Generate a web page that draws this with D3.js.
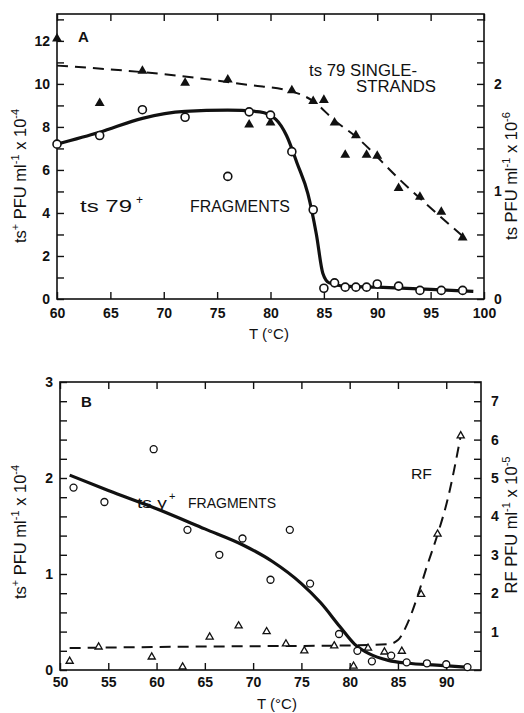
<!DOCTYPE html>
<html>
<head>
<meta charset="utf-8">
<script src="https://cdn.jsdelivr.net/npm/d3@7"></script>
<style>
  body { margin: 0; background: #fff; }
  text { font-family: "Liberation Sans", Arial, sans-serif; fill: #111; }
</style>
</head>
<body>
<svg id="chart" width="524" height="713"></svg>
<script>
// ---- panel A data ----
const tempA = [60, 64, 68, 72, 76, 78, 80, 82, 84, 85, 86, 87, 88, 89, 90, 92, 94, 96, 98];
// ts79+ fragments, ts+ PFU/ml x 10^-4 (left axis)
const fragA = [7.2, 7.6, 8.8, 8.45, 5.7, 8.7, 8.55, 6.85, 4.15, 0.5, 0.75, 0.55, 0.55, 0.55, 0.7, 0.6, 0.4, 0.4, 0.4];
// ts79 single strands, ts PFU/ml x 10^-6 (right axis)
const tempA_ss = [60, 64, 68, 72, 76, 78, 80, 82, 84, 85, 86, 87, 88, 89, 90, 92, 94, 96, 98];
const singleA = [2.42, 1.82, 2.12, 2.01, 2.04, 1.62, 1.64, 1.94, 1.84, 1.85, 1.64, 1.34, 1.52, 1.34, 1.33, 1.03, 0.95, 0.81, 0.57];
// hand drawn curves
const fragCurveT = [60, 64, 68, 72, 76, 79, 80.5, 81.5, 82.5, 83.5, 84.3, 84.9, 85.5, 87, 90, 95, 99];
const fragCurveV = [7.2, 7.75, 8.4, 8.72, 8.78, 8.7, 8.35, 7.6, 6.3, 4.9, 3.0, 1.2, 0.75, 0.6, 0.55, 0.45, 0.35];
const ssCurveT = [60, 70, 78, 82, 84, 86, 88, 92, 98.4];
const ssCurveV = [2.17, 2.09, 1.99, 1.93, 1.84, 1.66, 1.51, 1.12, 0.55];

// ---- panel B data ----
const tempB_frag = [51.4, 54.6, 59.7, 63.2, 66.5, 68.9, 71.8, 73.8, 75.9, 78.9, 80.8, 82.3, 84.3, 85.9, 88, 90, 92.2];
const fragB = [1.9, 1.75, 2.3, 1.46, 1.2, 1.37, 0.94, 1.46, 0.9, 0.375, 0.2, 0.09, 0.15, 0.08, 0.07, 0.06, 0.03];
const tempB_rf = [51, 54, 59.5, 62.7, 65.5, 68.5, 71.4, 73.4, 75.3, 78.4, 80.4, 81.9, 83.6, 85.4, 87.4, 89.1, 91.5];
const rfB = [0.23, 0.6, 0.34, 0.08, 0.86, 1.15, 1.0, 0.68, 0.5, 0.63, 0.1, 0.57, 0.47, 0.49, 1.97, 3.54, 6.1];
const fragBCurveT = [51, 55, 60, 65, 69, 72, 75, 77, 79, 80.5, 82, 84, 86, 89, 92];
const fragBCurveV = [2.03, 1.87, 1.68, 1.47, 1.3, 1.13, 0.9, 0.7, 0.45, 0.27, 0.17, 0.1, 0.07, 0.05, 0.03];
const rfCurveT = [51, 60, 70, 80, 84, 85, 86, 87, 88, 89, 90.2, 91.5];
const rfCurveV = [0.57, 0.6, 0.62, 0.64, 0.67, 0.78, 1.22, 1.9, 2.7, 3.45, 4.5, 6.1];

// tick values
const xTicksA = [60, 65, 70, 75, 80, 85, 90, 95, 100];
const xTicksB = [50, 55, 60, 65, 70, 75, 80, 85, 90];

const svg = d3.select("#chart");
const zip = (a, b) => a.map((d, i) => [d, b[i]]);

function frame(g, x, yl, yr, opts) {
  const [x0, x1] = x.range();
  const [y0, y1] = yl.range();
  g.append("rect").attr("x", x0).attr("y", y1).attr("width", x1 - x0).attr("height", y0 - y1)
    .attr("fill", "none").attr("stroke", "#111").attr("stroke-width", 1.6);

  const style = sel => {
    sel.select(".domain").remove();
    sel.selectAll("line").attr("stroke", "#111").attr("stroke-width", 1.4);
    sel.selectAll("text").attr("font-size", 14).attr("font-weight", "bold").attr("font-family", "Liberation Sans, Arial, sans-serif");
  };

  g.append("g").attr("transform", `translate(0,${y0})`)
    .call(d3.axisBottom(x).tickValues(opts.xTicks).tickSize(-7).tickPadding(opts.xPad).tickFormat(d3.format("d")))
    .call(style);
  g.append("g").attr("transform", `translate(0,${y1})`)
    .call(d3.axisTop(x).tickValues(opts.xTicks).tickSize(-7).tickFormat(""))
    .call(style);
  g.append("g").attr("transform", `translate(${x0},0)`)
    .call(d3.axisLeft(yl).tickValues(opts.ylTicks).tickSize(-7).tickPadding(7)
      .tickFormat(d => opts.ylLabels.includes(+d.toFixed(2)) ? d3.format("d")(d) : ""))
    .call(style);
  g.append("g").attr("transform", `translate(${x1},0)`)
    .call(d3.axisRight(yr).tickValues(opts.yrTicks).tickSize(-7).tickPadding(10)
      .tickFormat(d => opts.yrLabels.includes(+d.toFixed(2)) ? d3.format("d")(d) : ""))
    .call(style);
}

// parts: [text, isSuperscript]
function yTitle(g, x, y, parts) {
  const t = g.append("text").attr("transform", `translate(${x},${y}) rotate(-90)`)
    .attr("text-anchor", "middle").attr("font-size", 16.5);
  let up = false;
  parts.forEach(p => {
    const sup = !!p[1];
    const dy = sup && !up ? -7 : (!sup && up ? 7 : 0);
    up = sup;
    t.append("tspan").text(p[0]).attr("dy", dy).attr("font-size", sup ? 11 : 16.5);
  });
}

function label(g, x, y, txt, size, width) {
  const t = g.append("text").attr("x", x).attr("y", y).attr("font-size", size).text(txt);
  if (width) t.attr("textLength", width).attr("lengthAdjust", "spacingAndGlyphs");
  return t;
}

// ---------------- panel A ----------------
const xA = d3.scaleLinear().domain([60, 100]).range([57, 484]);
const yAL = d3.scaleLinear().domain([0, 13.25]).range([299, 14]);
const yAR = d3.scaleLinear().domain([0, 2.65]).range([299, 14]);
const gA = svg.append("g");

frame(gA, xA, yAL, yAR, {
  xTicks: xTicksA, xPad: 9,
  ylTicks: d3.range(0, 14, 1), ylLabels: [0, 2, 4, 6, 8, 10, 12],
  yrTicks: d3.range(0, 2.65, 0.2), yrLabels: [0, 1, 2]
});

gA.append("path").datum(zip(ssCurveT, ssCurveV))
  .attr("d", d3.line().x(d => xA(d[0])).y(d => yAR(d[1])).curve(d3.curveMonotoneX))
  .attr("fill", "none").attr("stroke", "#111").attr("stroke-width", 2).attr("stroke-dasharray", "11,7");
gA.append("path").datum(zip(fragCurveT, fragCurveV))
  .attr("d", d3.line().x(d => xA(d[0])).y(d => yAL(d[1])).curve(d3.curveMonotoneX))
  .attr("fill", "none").attr("stroke", "#111").attr("stroke-width", 3.2);

gA.selectAll(".tri").data(zip(tempA_ss, singleA)).join("path")
  .attr("transform", d => `translate(${xA(d[0])},${yAR(d[1])})`)
  .attr("d", d3.symbol(d3.symbolTriangle).size(42)).attr("fill", "#111");
gA.selectAll(".circ").data(zip(tempA, fragA)).join("circle")
  .attr("cx", d => xA(d[0])).attr("cy", d => yAL(d[1])).attr("r", 4)
  .attr("fill", "#fff").attr("stroke", "#111").attr("stroke-width", 1.6);

gA.append("text").attr("x", 78).attr("y", 42).attr("font-size", 15).attr("font-weight", "bold").text("A");
label(gA, 309, 76, "ts 79  SINGLE-", 16, 108);
label(gA, 356, 92, "STRANDS", 16, 80);
label(gA, 80, 212, "ts 79", 16, 52);
label(gA, 136, 204, "+", 12);
label(gA, 190, 212, "FRAGMENTS", 16, 100);
gA.append("text").attr("x", 269).attr("y", 339).attr("text-anchor", "middle").attr("font-size", 15).text("T (°C)");

yTitle(gA, 26, 176, [["ts"], ["+", 1], [" PFU ml"], ["-1", 1], [" x 10"], ["-4", 1]]);
yTitle(gA, 517, 176, [["ts PFU ml"], ["-1", 1], [" x 10"], ["-6", 1]]);

// ---------------- panel B ----------------
const xB = d3.scaleLinear().domain([50, 93.6]).range([60, 481]);
const yBL = d3.scaleLinear().domain([0, 3]).range([670, 382]);
const yBR = d3.scaleLinear().domain([0, 7.5]).range([670, 382]);
const gB = svg.append("g");

frame(gB, xB, yBL, yBR, {
  xTicks: xTicksB, xPad: 7,
  ylTicks: d3.range(0, 3.01, 0.2), ylLabels: [0, 1, 2, 3],
  yrTicks: d3.range(0, 7.51, 0.5), yrLabels: [1, 2, 3, 4, 5, 6, 7]
});

gB.append("path").datum(zip(rfCurveT, rfCurveV))
  .attr("d", d3.line().x(d => xB(d[0])).y(d => yBR(d[1])).curve(d3.curveMonotoneX))
  .attr("fill", "none").attr("stroke", "#111").attr("stroke-width", 2).attr("stroke-dasharray", "11,7");
gB.append("path").datum(zip(fragBCurveT, fragBCurveV))
  .attr("d", d3.line().x(d => xB(d[0])).y(d => yBL(d[1])).curve(d3.curveMonotoneX))
  .attr("fill", "none").attr("stroke", "#111").attr("stroke-width", 3.2);

gB.selectAll(".tri").data(zip(tempB_rf, rfB)).join("path")
  .attr("transform", d => `translate(${xB(d[0])},${yBR(d[1])})`)
  .attr("d", d3.symbol(d3.symbolTriangle).size(22))
  .attr("fill", "#fff").attr("stroke", "#111").attr("stroke-width", 1.3);
gB.selectAll(".circ").data(zip(tempB_frag, fragB)).join("circle")
  .attr("cx", d => xB(d[0])).attr("cy", d => yBL(d[1])).attr("r", 3.5)
  .attr("fill", "#fff").attr("stroke", "#111").attr("stroke-width", 1.3);

gB.append("text").attr("x", 81).attr("y", 407).attr("font-size", 15).attr("font-weight", "bold").text("B");
label(gB, 137, 508, "ts γ", 15, 30);
label(gB, 169, 500, "+", 11);
label(gB, 188, 508, "FRAGMENTS", 15, 88);
label(gB, 411, 479, "RF", 15, 21);
gB.append("text").attr("x", 277).attr("y", 709).attr("text-anchor", "middle").attr("font-size", 15).text("T (°C)");

yTitle(gB, 26, 532, [["ts"], ["+", 1], [" PFU ml"], ["-1", 1], [" x 10"], ["-4", 1]]);
yTitle(gB, 517, 525, [["RF PFU ml"], ["-1", 1], [" x 10"], ["-5", 1]]);
</script>
</body>
</html>
